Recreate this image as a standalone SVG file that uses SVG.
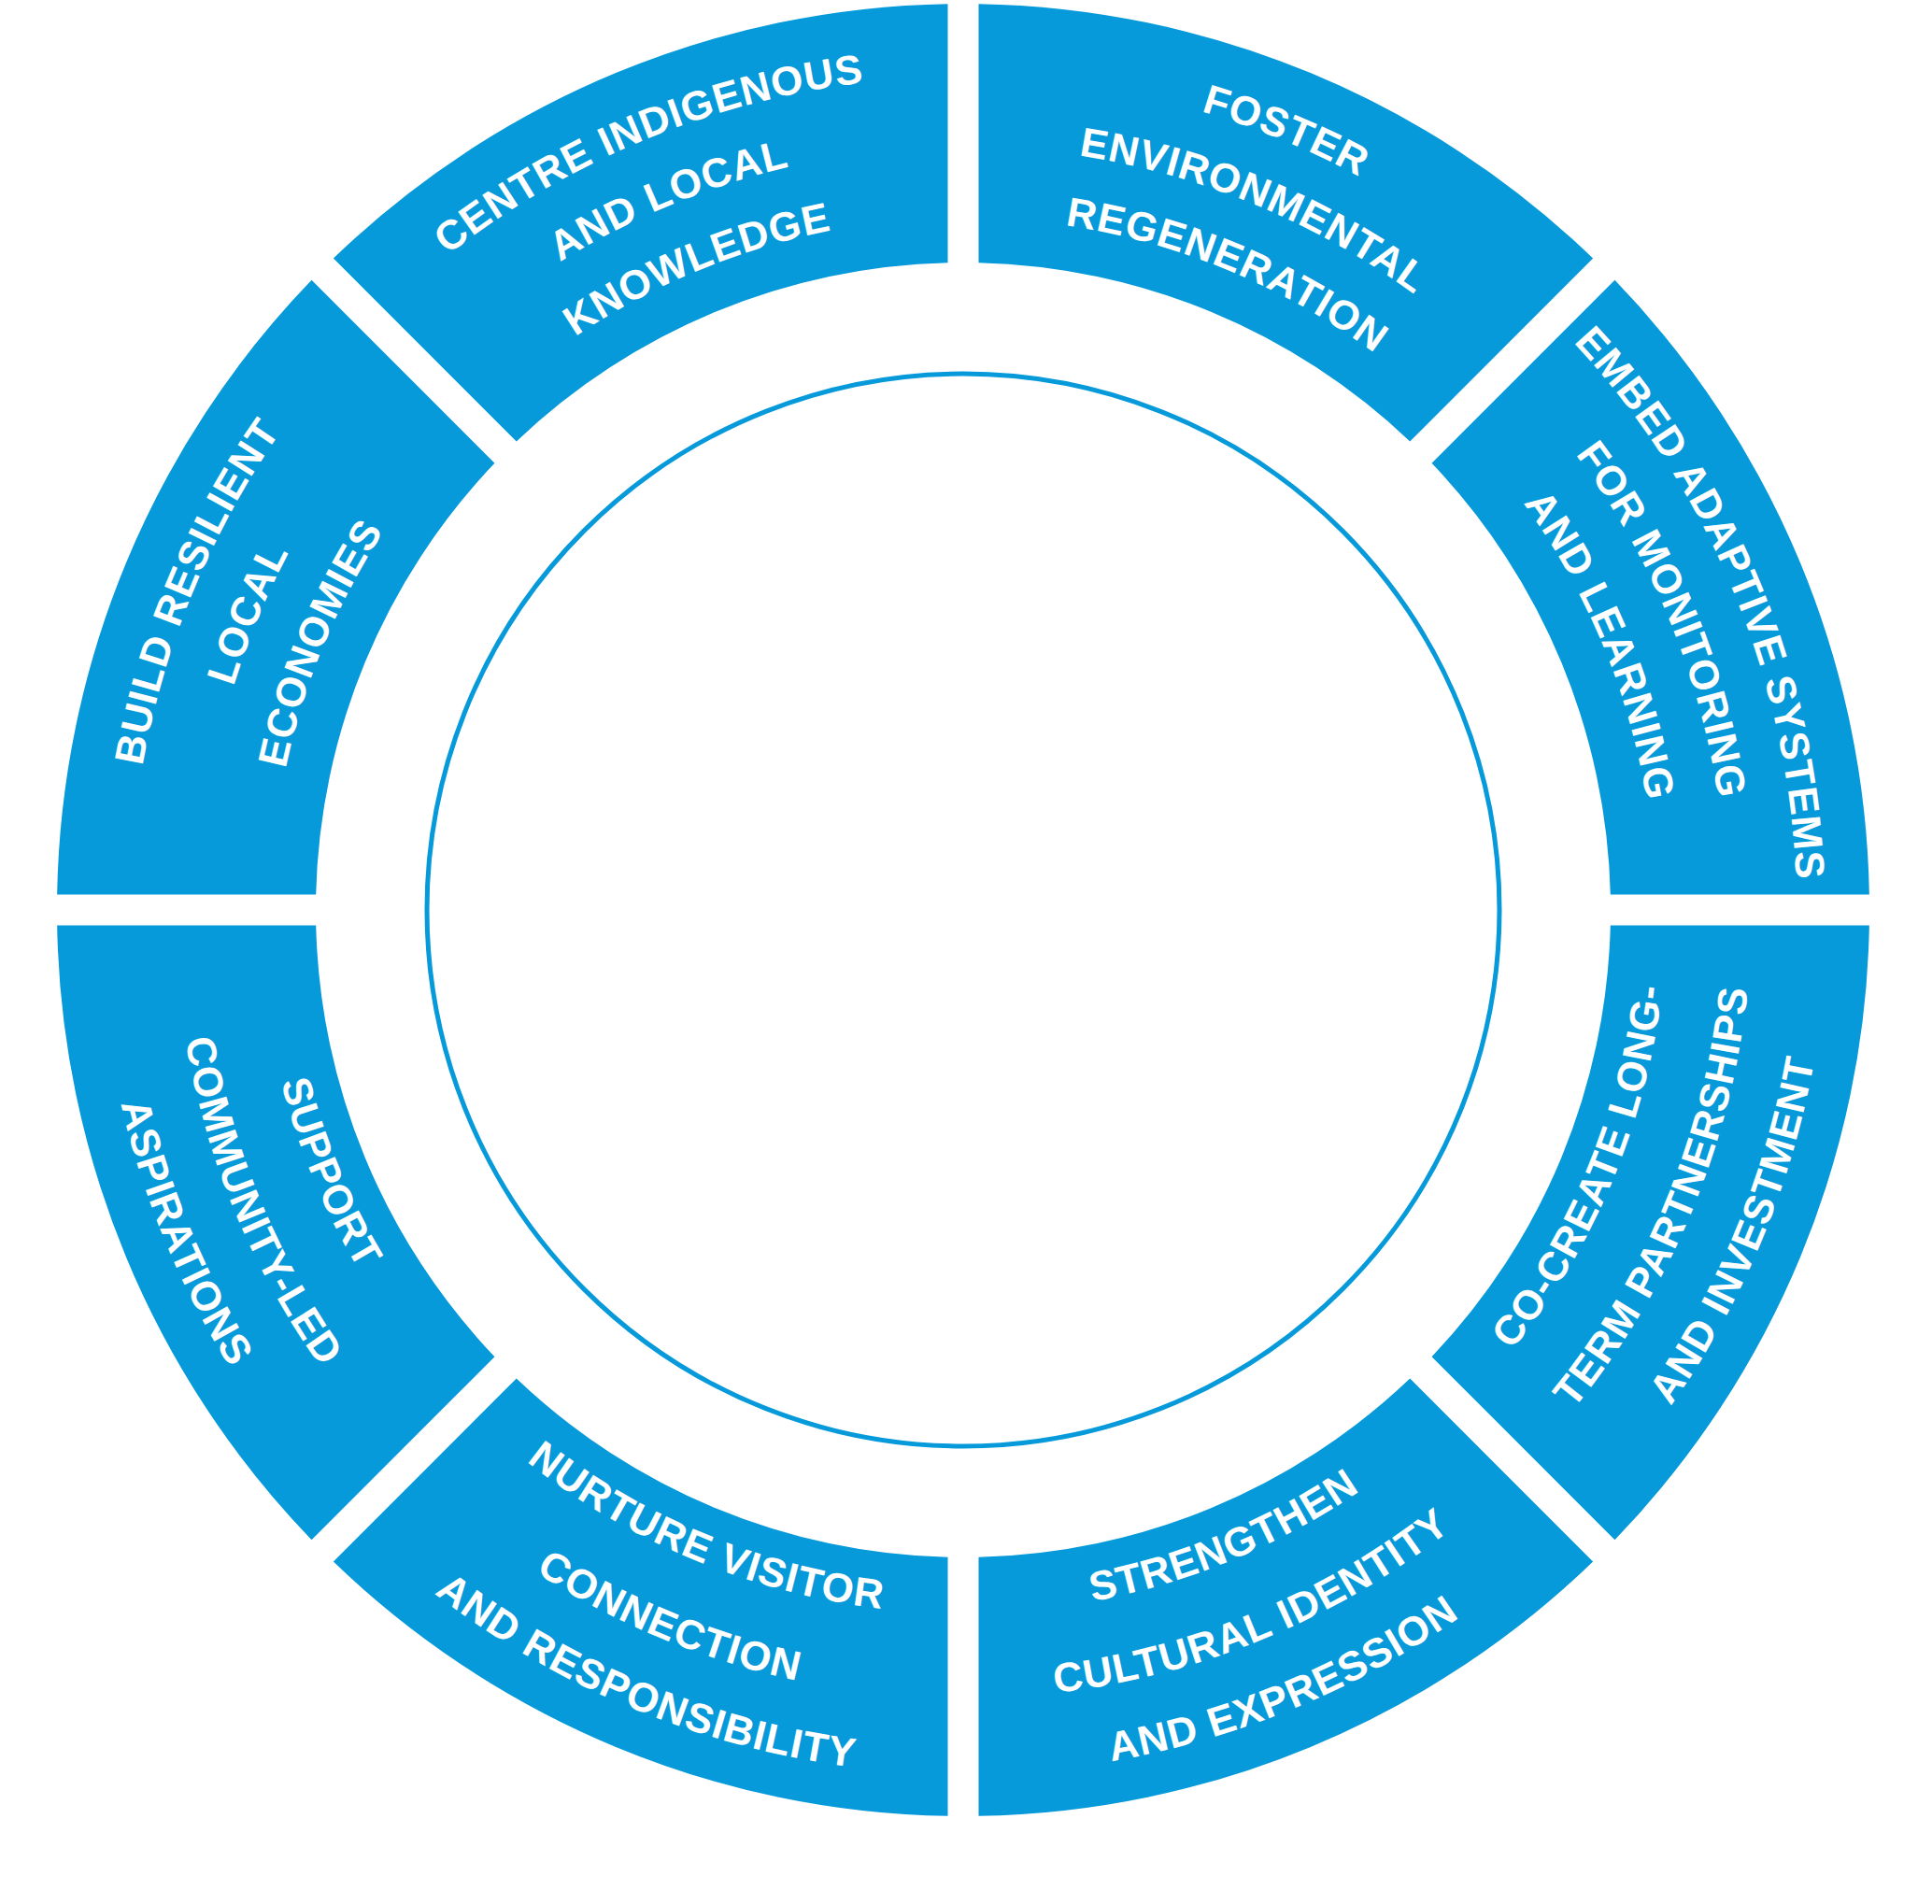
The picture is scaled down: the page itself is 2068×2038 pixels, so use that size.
<svg xmlns="http://www.w3.org/2000/svg" xmlns:xlink="http://www.w3.org/1999/xlink" width="2068" height="2038" viewBox="0 0 2068 2038">
<style>
.seg{fill:#069ADB}
.t{fill:#fff;font-family:"Liberation Sans",Arial,sans-serif;font-weight:bold;font-size:44px;letter-spacing:1px}
</style>
<defs>
<path id="sec" d="M 692.8 16.5 L 969.86 16.5 A 970 970 0 0 1 697.46 674.13 L 501.55 478.21 A 693 693 0 0 0 692.8 16.5 Z"/>
<path id="c1" d="M -573.4 -683.3 A 892 892 0 0 1 573.4 -683.3"/>
<path id="c2" d="M -525.2 -625.8 A 817 817 0 0 1 525.2 -625.8"/>
<path id="c3" d="M -476.3 -567.6 A 741 741 0 0 1 476.3 -567.6"/>
<path id="a1" d="M -484.0 576.8 A 753 753 0 0 0 484.0 576.8"/>
<path id="a2" d="M -542.5 646.5 A 844 844 0 0 0 542.5 646.5"/>
<path id="a3" d="M -594.6 708.6 A 925 925 0 0 0 594.6 708.6"/>
</defs>
<rect width="2068" height="2038" fill="#fff"/>
<g transform="translate(1031,974)">
<circle id="ring" r="574" fill="none" stroke="#069ADB" stroke-width="5"/>
<g id="n-centre"><use href="#sec" class="seg" transform="rotate(-135)"/>
<text class="t" transform="rotate(-22.5)"><textPath href="#c1" startOffset="50%" text-anchor="middle">CENTRE INDIGENOUS</textPath></text>
<text class="t" transform="rotate(-22.5)"><textPath href="#c2" startOffset="50%" text-anchor="middle">AND LOCAL</textPath></text>
<text class="t" transform="rotate(-22.5)"><textPath href="#c3" startOffset="50%" text-anchor="middle">KNOWLEDGE</textPath></text></g>
<g id="n-foster"><use href="#sec" class="seg" transform="rotate(-90)"/>
<text class="t" transform="rotate(22.5)"><textPath href="#c1" startOffset="50%" text-anchor="middle">FOSTER</textPath></text>
<text class="t" transform="rotate(22.5)"><textPath href="#c2" startOffset="50%" text-anchor="middle">ENVIRONMENTAL</textPath></text>
<text class="t" transform="rotate(22.5)"><textPath href="#c3" startOffset="50%" text-anchor="middle">REGENERATION</textPath></text></g>
<g id="n-embed"><use href="#sec" class="seg" transform="rotate(-45)"/>
<text class="t" transform="rotate(67.5)"><textPath href="#c1" startOffset="50%" text-anchor="middle">EMBED ADAPTIVE SYSTEMS</textPath></text>
<text class="t" transform="rotate(67.5)"><textPath href="#c2" startOffset="50%" text-anchor="middle">FOR MONITORING</textPath></text>
<text class="t" transform="rotate(67.5)"><textPath href="#c3" startOffset="50%" text-anchor="middle">AND LEARNING</textPath></text></g>
<g id="n-cocreate"><use href="#sec" class="seg" transform="rotate(0)"/>
<text class="t" transform="rotate(-67.5)"><textPath href="#a1" startOffset="50%" text-anchor="middle">CO-CREATE LONG-</textPath></text>
<text class="t" transform="rotate(-67.5)"><textPath href="#a2" startOffset="50%" text-anchor="middle">TERM PARTNERSHIPS</textPath></text>
<text class="t" transform="rotate(-67.5)"><textPath href="#a3" startOffset="50%" text-anchor="middle">AND INVESTMENT</textPath></text></g>
<g id="n-strengthen"><use href="#sec" class="seg" transform="rotate(45)"/>
<text class="t" transform="rotate(-22.5)"><textPath href="#a1" startOffset="50%" text-anchor="middle">STRENGTHEN</textPath></text>
<text class="t" transform="rotate(-22.5)"><textPath href="#a2" startOffset="50%" text-anchor="middle">CULTURAL IDENTITY</textPath></text>
<text class="t" transform="rotate(-22.5)"><textPath href="#a3" startOffset="50%" text-anchor="middle">AND EXPRESSION</textPath></text></g>
<g id="n-nurture"><use href="#sec" class="seg" transform="rotate(90)"/>
<text class="t" transform="rotate(22.5)"><textPath href="#a1" startOffset="50%" text-anchor="middle">NURTURE VISITOR</textPath></text>
<text class="t" transform="rotate(22.5)"><textPath href="#a2" startOffset="50%" text-anchor="middle">CONNECTION</textPath></text>
<text class="t" transform="rotate(22.5)"><textPath href="#a3" startOffset="50%" text-anchor="middle">AND RESPONSIBILITY</textPath></text></g>
<g id="n-support"><use href="#sec" class="seg" transform="rotate(135)"/>
<text class="t" transform="rotate(67.5)"><textPath href="#a1" startOffset="50%" text-anchor="middle">SUPPORT</textPath></text>
<text class="t" transform="rotate(67.5)"><textPath href="#a2" startOffset="50%" text-anchor="middle">COMMUNITY-LED</textPath></text>
<text class="t" transform="rotate(67.5)"><textPath href="#a3" startOffset="50%" text-anchor="middle">ASPIRATIONS</textPath></text></g>
<g id="n-build"><use href="#sec" class="seg" transform="rotate(180)"/>
<text class="t" transform="rotate(-67.5)"><textPath href="#c1" startOffset="50%" text-anchor="middle">BUILD RESILIENT</textPath></text>
<text class="t" transform="rotate(-67.5)"><textPath href="#c2" startOffset="50%" text-anchor="middle">LOCAL</textPath></text>
<text class="t" transform="rotate(-67.5)"><textPath href="#c3" startOffset="50%" text-anchor="middle">ECONOMIES</textPath></text></g>
</g>
<g id="connectors"/>
</svg>
